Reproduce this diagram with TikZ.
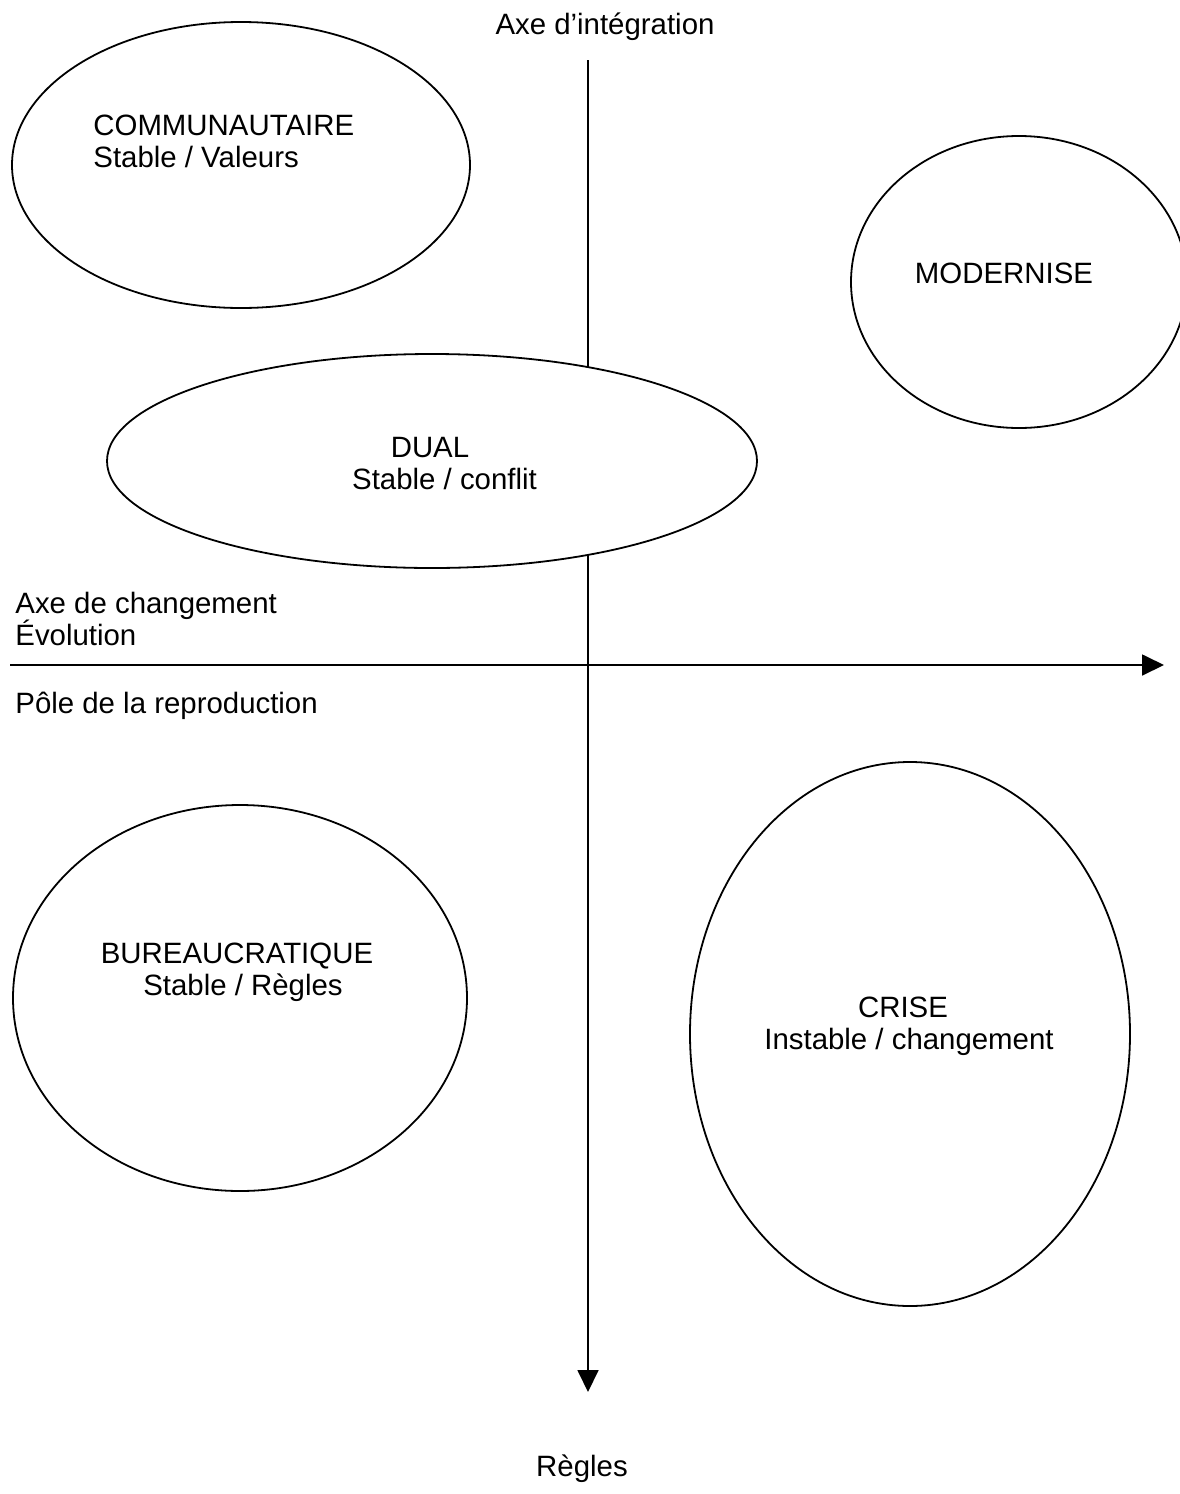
\documentclass[tikz,border=0pt]{standalone}
\usepackage{fontspec}
\setmainfont{Liberation Sans}
\usepackage{tikz}
\usetikzlibrary{arrows.meta}

\tikzset{
  lbl/.style={font=\fontsize{14.7}{16}\selectfont, inner sep=0pt},
  bulle/.style={draw, line width=0.9pt, fill=white},
  axe/.style={line width=0.9pt, -{Triangle[length=11pt,width=10.5pt]}}
}

\begin{document}
\begin{tikzpicture}[x=0.5pt, y=-0.5pt]
                \useasboundingbox (0,0) rectangle (1179,1494);

                % Axes
                \coordinate (hg) at (10,665);
                \coordinate (hd) at (1164,665);
                \coordinate (vh) at (588,60);
                \coordinate (vb) at (588,1392);
                \draw[axe] (hg) -- (hd);
                \draw[axe] (vh) -- (vb);

                % Ellipses
                \draw[bulle] (241,165) ellipse [x radius=229, y radius=143];
                \draw[bulle] (1019,282) ellipse [x radius=168, y radius=146];
                \draw[bulle] (432,461) ellipse [x radius=325, y radius=107];
                \draw[bulle] (240,998) ellipse [x radius=227, y radius=193];
                \draw[bulle] (910,1034) ellipse [x radius=220, y radius=272];

                % Labels of the ellipses
                \node[lbl, anchor=west, align=left] (comm) at (93,141) {COMMUNAUTAIRE\\Stable / Valeurs};
                \node[lbl] (mod) at (1004,273) {MODERNISE};
                \node[lbl, align=center] (dual) at (444.5,464) {DUAL\hspace*{14.5pt}\\Stable / conflit};
                \node[lbl, align=center] (bur) at (243,972) {BUREAUCRATIQUE\hspace*{6pt}\\Stable / Règles};
                \node[lbl, align=center] (crise) at (909,1026) {CRISE\hspace*{6pt}\\Instable / changement};

                % Axis labels
                \node[lbl] (integ) at (605,27) {Axe d’intégration};
                \node[lbl, anchor=west, align=left] (chang) at (15,619) {Axe de changement\\Évolution};
                \node[lbl, anchor=west] (repro) at (15,706) {Pôle de la reproduction};
                \node[lbl, anchor=base] (regles) at (582,1476) {Règles};
            \end{tikzpicture}
\end{document}
